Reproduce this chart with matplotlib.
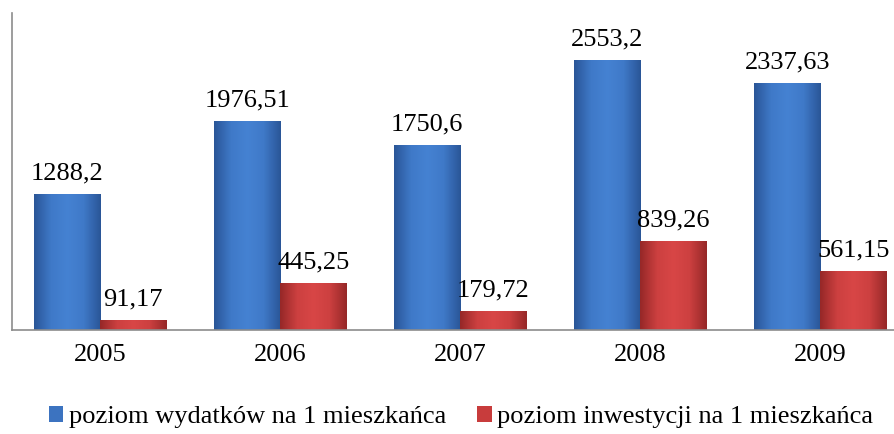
import matplotlib.pyplot as plt
import numpy as np
from matplotlib.colors import LinearSegmentedColormap

years = ['2005', '2006', '2007', '2008', '2009']
wydatki = [1288.2, 1976.51, 1750.6, 2553.2, 2337.63]
inwestycje = [91.17, 445.25, 179.72, 839.26, 561.15]
labels_w = ['1288,2', '1976,51', '1750,6', '2553,2', '2337,63']
labels_i = ['91,17', '445,25', '179,72', '839,26', '561,15']

plt.rcParams['font.family'] = ['Liberation Serif', 'DejaVu Serif']
fs = 19

fig = plt.figure(figsize=(8.95, 4.34), dpi=100)
ax = fig.add_axes([12 / 895, 104 / 434, 883 / 895, 317 / 434])

x = np.arange(len(years))
width = 0.367

bars_w = ax.bar(x - width / 2, wydatki, width, color='#3c73c0', label='poziom wydatków na 1 mieszkańca')
bars_i = ax.bar(x + width / 2, inwestycje, width, color='#c83c3c', label='poziom inwestycji na 1 mieszkańca')

# gradient fill clipped to each bar (bevel-like: darker edges)
cm_blue = LinearSegmentedColormap.from_list('b', ['#2a5698', '#3f79c8', '#4582d2', '#3f79c8', '#2a5698'])
cm_red = LinearSegmentedColormap.from_list('r', ['#962828', '#cc4040', '#d84646', '#cc4040', '#962828'])
grad = np.linspace(0, 1, 64).reshape(1, -1)
for bars, cm in [(bars_w, cm_blue), (bars_i, cm_red)]:
    for b in bars:
        bx, by = b.get_x(), b.get_y()
        bw, bh = b.get_width(), b.get_height()
        im = ax.imshow(grad, cmap=cm, aspect='auto', extent=(bx, bx + bw, by, by + bh), zorder=2)
        im.set_clip_path(b)
        b.set_zorder(1)

for b, t in zip(bars_w, labels_w):
    ax.annotate(t, (b.get_x() + b.get_width() / 2, b.get_height()), xytext=(0, 7),
                textcoords='offset points', ha='center', va='bottom', fontsize=fs)
for b, t in zip(bars_i, labels_i):
    ax.annotate(t, (b.get_x() + b.get_width() / 2, b.get_height()), xytext=(0, 7),
                textcoords='offset points', ha='center', va='bottom', fontsize=fs)

ax.set_xlim(-0.49, -0.49 + 883 / 180)
ax.set_ylim(0, 3000)
ax.set_xticks(x)
ax.set_xticklabels(years, fontsize=fs)
ax.set_yticks([])
ax.tick_params(axis='x', length=0, pad=10)
for s in ['top', 'right']:
    ax.spines[s].set_visible(False)
for s in ['left', 'bottom']:
    ax.spines[s].set_color('#8c8c8c')
    ax.spines[s].set_linewidth(1.2)

ax.legend(loc='center', bbox_to_anchor=(461 / 895, (434 - 417) / 434), bbox_transform=fig.transFigure,
          ncol=2, frameon=False, fontsize=fs, handlelength=0.55, handleheight=0.55,
          handletextpad=0.2, columnspacing=1.2)

fig.savefig('out.png', dpi=100)
